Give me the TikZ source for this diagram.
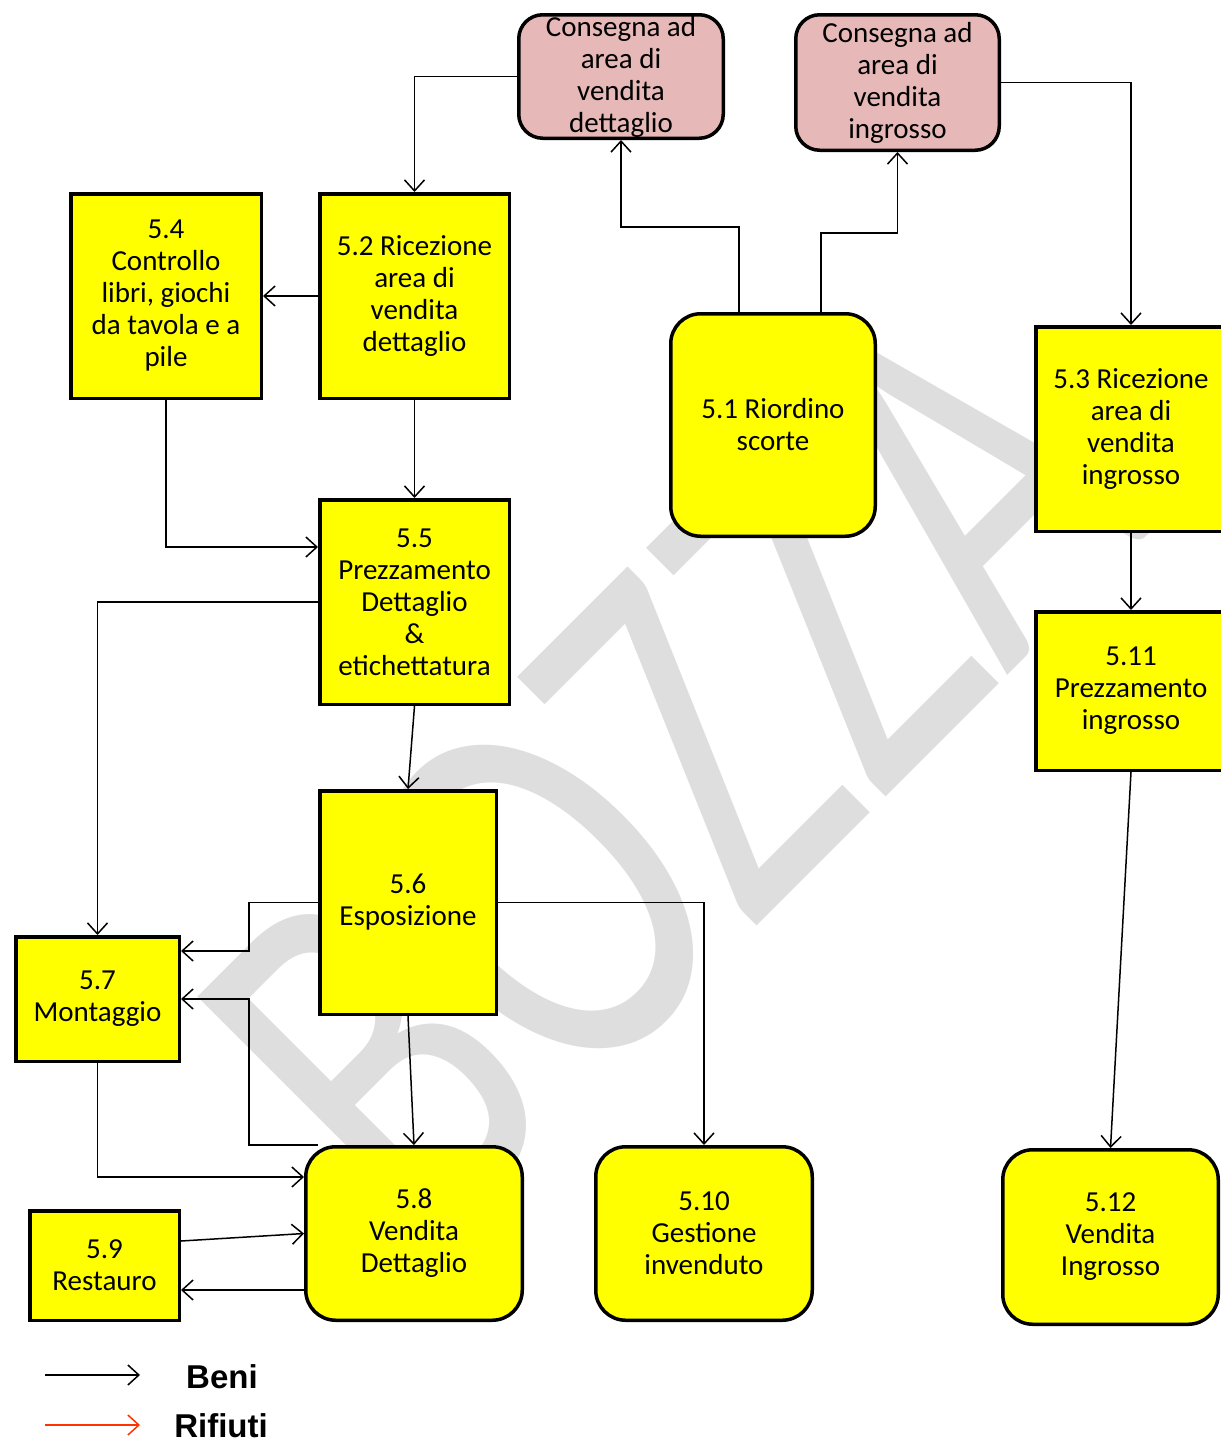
\documentclass[tikz,border=0pt]{standalone}
\usepackage{fontspec}
\newfontfamily\calib{Carlito}
\newfontfamily\arialb{Liberation Sans}
\usetikzlibrary{arrows.meta}
\definecolor{boxyellow}{RGB}{255,255,0}
\definecolor{boxpink}{RGB}{230,184,183}
\definecolor{wmgray}{RGB}{222,222,222}
\definecolor{refuse}{RGB}{255,51,0}
\tikzset{
  proc/.style={draw=black, line width=3.5pt, fill=boxyellow, align=center, inner sep=0pt,
    font=\calib\fontsize{29}{32}\selectfont},
  procr/.style={proc, rounded corners=30pt},
  deliv/.style={proc, fill=boxpink, rounded corners=24pt},
  arr/.style={draw=black, line width=1.5pt, -{Straight Barb[length=11pt,width=20pt]}},
  redarr/.style={arr, draw=refuse},
  legtext/.style={font=\arialb\bfseries\fontsize{33}{36}\selectfont, inner sep=0pt},
}
\begin{document}
\begin{tikzpicture}[x=1pt,y=-1pt]
\useasboundingbox (0,0) rectangle (1221,1438);
\fill[white] (0,0) rectangle (1221,1438);
% watermark
\node[rotate=45, xscale=0.725, anchor=base, inner sep=0pt, text=wmgray,
  font=\calib\fontsize{538}{538}\selectfont] (wm) at (794,889) {BOZZA};
% boxes
\node[deliv, minimum width=204.5pt, minimum height=123.5pt] (c1) at (621,76.5)
  {Consegna ad\\area di\\vendita\\dettaglio};
\node[deliv, minimum width=203.5pt, minimum height=135.5pt] (c2) at (897.5,82.5)
  {Consegna ad\\area di\\vendita\\ingrosso};
\node[proc, minimum width=190.5pt, minimum height=204.5pt] (n54) at (166,296)
  {5.4\\Controllo\\libri, giochi\\da tavola e a\\pile};
\node[proc, minimum width=189.5pt, minimum height=204.5pt] (n52) at (414.5,296)
  {5.2 Ricezione\\area di\\vendita\\dettaglio};
\node[procr, minimum width=204.5pt, minimum height=222.5pt] (n51) at (773,425)
  {5.1 Riordino\\scorte};
\node[proc, minimum width=190.5pt, minimum height=204.5pt] (n53) at (1131,429)
  {5.3 Ricezione\\area di\\vendita\\ingrosso};
\node[proc, minimum width=189.5pt, minimum height=204.5pt] (n55) at (414.5,602)
  {5.5\\Prezzamento\\Dettaglio\\\&\\etichettatura};
\node[proc, minimum width=190.5pt, minimum height=158.5pt] (n511) at (1131,691)
  {5.11\\Prezzamento\\ingrosso};
\node[proc, minimum width=176.5pt, minimum height=223.5pt] (n56) at (408,902.5)
  {5.6\\Esposizione};
\node[proc, minimum width=163.5pt, minimum height=124.5pt] (n57) at (97.5,999)
  {5.7\\Montaggio};
\node[procr, minimum width=216.5pt, minimum height=173.5pt] (n58) at (414,1233.5)
  {5.8\\Vendita\\Dettaglio};
\node[proc, minimum width=149.5pt, minimum height=109.5pt] (n59) at (104.5,1265.5)
  {5.9\\Restauro};
\node[procr, minimum width=216.5pt, minimum height=173.5pt] (n510) at (704,1233.5)
  {5.10\\Gestione\\invenduto};
\node[procr, minimum width=215.5pt, minimum height=174.5pt] (n512) at (1110.5,1237)
  {5.12\\Vendita\\Ingrosso};
% connectors
\draw[arr] (c1.west) -| (n52.north);
\draw[arr] ([xshift=-34pt]n51.north) -- ++(0,-85) -| (c1.south);
\draw[arr] ([xshift=48pt]n51.north) -- ++(0,-79) -| (c2.south);
\draw[arr] (c2.east) -| (n53.north);
\draw[arr] (n52.west) -- (n54.east);
\draw[arr] (n52.south) -- (n55.north);
\draw[arr] (n54.south) |- ([yshift=55pt]n55.west);
\draw[arr] (n55.west) -| (n57.north);
\draw[arr] (n55.south) -- (n56.north);
\draw[arr] (n53.south) -- (n511.north);
\draw[arr] (n511.south) -- (n512.north);
\draw[arr] (n56.west) -- ++(-69,0) |- ([yshift=48pt]n57.east);
\draw[arr] ([xshift=14pt]n58.north west) -- ++(-69,0) |- (n57.east);
\draw[arr] (n57.south) |- ([yshift=56.5pt]n58.west);
\draw[arr] ([yshift=24.5pt]n59.east) -- (n58.west);
\draw[arr] ([yshift=-56.5pt]n58.west) -- ([yshift=-24.5pt]n59.east);
\draw[arr] (n56.south) -- (n58.north);
\draw[arr] (n56.east) -| (n510.north);
% legend
\coordinate (l1a) at (45,1375);
\coordinate (l1b) at (140,1375);
\coordinate (l2a) at (45,1425);
\coordinate (l2b) at (140,1425);
\draw[arr] (l1a) -- (l1b);
\draw[redarr] (l2a) -- (l2b);
\node[legtext] (beni) at (222,1377) {Beni};
\node[legtext] (rif) at (221,1426) {Rifiuti};
\end{tikzpicture}
\end{document}
